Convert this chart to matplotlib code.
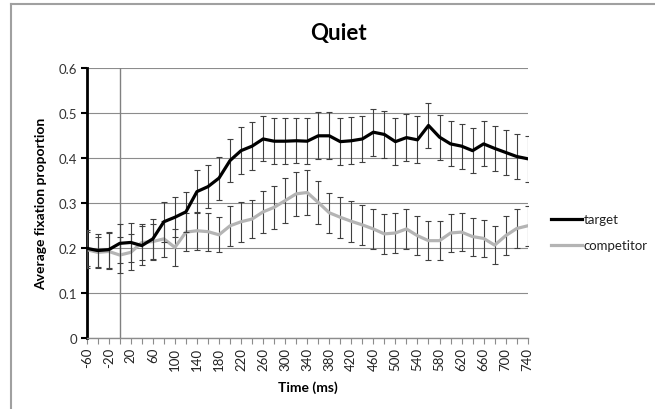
import matplotlib
matplotlib.use("Agg")
import matplotlib.pyplot as plt
from matplotlib.lines import Line2D

time_ms = [-60, -40, -20, 0, 20, 40, 60, 80, 100, 120, 140, 160, 180, 200, 220, 240,
           260, 280, 300, 320, 340, 360, 380, 400, 420, 440, 460, 480, 500, 520, 540,
           560, 580, 600, 620, 640, 660, 680, 700, 720, 740]

target = [0.200, 0.195, 0.197, 0.211, 0.213, 0.206, 0.221, 0.259, 0.269, 0.281, 0.326,
          0.337, 0.356, 0.395, 0.417, 0.427, 0.443, 0.438, 0.438, 0.439, 0.438, 0.450,
          0.450, 0.437, 0.439, 0.443, 0.458, 0.453, 0.437, 0.446, 0.441, 0.473, 0.447,
          0.432, 0.427, 0.417, 0.432, 0.422, 0.413, 0.404, 0.399]
target_err = [0.040, 0.036, 0.040, 0.043, 0.043, 0.044, 0.045, 0.045, 0.044, 0.045, 0.048,
              0.048, 0.048, 0.048, 0.052, 0.053, 0.050, 0.051, 0.051, 0.050, 0.051, 0.052,
              0.052, 0.052, 0.052, 0.052, 0.052, 0.052, 0.052, 0.052, 0.052, 0.050, 0.050,
              0.050, 0.050, 0.050, 0.050, 0.050, 0.050, 0.050, 0.051]

competitor = [0.197, 0.191, 0.193, 0.185, 0.191, 0.213, 0.215, 0.221, 0.202, 0.236, 0.239,
              0.237, 0.230, 0.250, 0.259, 0.265, 0.281, 0.291, 0.306, 0.321, 0.324, 0.302,
              0.279, 0.269, 0.260, 0.252, 0.243, 0.232, 0.234, 0.243, 0.228, 0.217, 0.217,
              0.234, 0.236, 0.226, 0.222, 0.207, 0.228, 0.244, 0.250]
competitor_err = [0.040, 0.035, 0.040, 0.040, 0.040, 0.040, 0.040, 0.040, 0.041, 0.042, 0.042,
                  0.042, 0.039, 0.045, 0.045, 0.043, 0.047, 0.047, 0.050, 0.049, 0.049, 0.047,
                  0.045, 0.045, 0.045, 0.045, 0.045, 0.044, 0.044, 0.044, 0.043, 0.043, 0.043,
                  0.042, 0.042, 0.042, 0.042, 0.042, 0.043, 0.044, 0.045]

y_ticks = [0, 0.1, 0.2, 0.3, 0.4, 0.5, 0.6]
y_tick_labels = ["0", "0.1", "0.2", "0.3", "0.4", "0.5", "0.6"]
series_names = ["target", "competitor"]
marker_time = 0

plt.rcParams['font.family'] = ['Lato', 'DejaVu Sans']

W, H = 655, 410
fig = plt.figure(figsize=(W / 100, H / 100), dpi=100)
ax = fig.add_axes([86.7 / W, 1 - 339.3 / H, 441 / W, 270 / H])

target_color = 'black'
comp_color = '#b4b4b4'
err_color = '#404040'
ax.errorbar(time_ms, target, yerr=target_err, color=target_color, lw=2.3,
            ecolor=err_color, elinewidth=0.8, capsize=2.4, capthick=0.8, zorder=4)
ax.errorbar(time_ms, competitor, yerr=competitor_err, color=comp_color, lw=2.3,
            ecolor=err_color, elinewidth=0.8, capsize=2.4, capthick=0.8, zorder=3)

ax.axvline(marker_time, ymin=0, ymax=1, color='#808080', lw=1.0, zorder=2)

ax.set_xlim(time_ms[0], time_ms[-1])
ax.set_ylim(0, 0.6)
ax.set_yticks(y_ticks)
ax.set_yticklabels(y_tick_labels)
ax.yaxis.grid(True, color='#8c8c8c', lw=0.8)
ax.set_axisbelow(True)

ax.set_xticks(time_ms)
ax.set_xticklabels([str(t) if i % 2 == 0 else '' for i, t in enumerate(time_ms)],
                   rotation=90)

for s in ['top', 'right']:
    ax.spines[s].set_visible(False)
ax.spines['left'].set_color('black')
ax.spines['left'].set_linewidth(2.0)
ax.spines['bottom'].set_color('#8c8c8c')
ax.spines['bottom'].set_linewidth(1.0)

ax.tick_params(axis='y', direction='out', length=4, width=1.5, color='black',
               labelsize=9.5, labelcolor='#333333', pad=3)
ax.tick_params(axis='x', direction='out', length=4, width=0.8, color='#8c8c8c',
               labelsize=9.5, labelcolor='#222222', pad=2)

# titles
fig.text(338 / W, 1 - 40 / H, 'Quiet', fontsize=16, fontweight='bold',
         ha='center', va='baseline')
fig.text(308 / W, 1 - 392 / H, 'Time (ms)', fontsize=10, fontweight='bold',
         ha='center', va='baseline')
fig.text(41.5 / W, 1 - 203.5 / H, 'Average fixation proportion', fontsize=10,
         fontweight='bold', ha='center', va='center', rotation=90)

# legend
for name, col, ypx in [(series_names[0], target_color, 220),
                       (series_names[1], comp_color, 246)]:
    fig.add_artist(Line2D([551 / W, 582 / W], [1 - ypx / H, 1 - ypx / H],
                          color=col, lw=2.3, transform=fig.transFigure))
    fig.text(584 / W, 1 - ypx / H, name, fontsize=9.5, ha='left', va='center',
             color='#222222')

# outer chart frame
fig.add_artist(Line2D([11 / W, 1.0], [1 - 5 / H, 1 - 5 / H], color='#a0a0a0',
                      lw=1.5, transform=fig.transFigure))
fig.add_artist(Line2D([11 / W, 11 / W], [0.0, 1 - 5 / H], color='#a0a0a0',
                      lw=1.5, transform=fig.transFigure))

fig.savefig('out.png', dpi=100)
